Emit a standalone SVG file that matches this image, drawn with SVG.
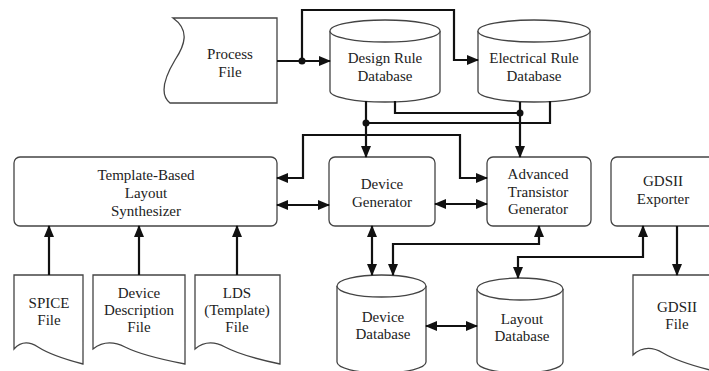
<svg xmlns="http://www.w3.org/2000/svg" width="709" height="371" viewBox="0 0 709 371">
<style>
.shape{fill:#fff;stroke:#444;stroke-width:1.3}
.con{fill:none;stroke:#111;stroke-width:2.2}
.dot{fill:#111}
text{font-family:"Liberation Serif","Times New Roman",serif;font-size:15px;fill:#222;text-anchor:middle}
</style>
<defs>
<marker id="arr" markerUnits="userSpaceOnUse" markerWidth="12" markerHeight="10" refX="11" refY="5" orient="auto-start-reverse">
<path d="M0,0 L12,5 L0,10 Z" fill="#111"/>
</marker>
</defs>
<rect width="709" height="371" fill="#fff"/>

<g id="process-file">
<path class="shape" d="M173,18 H277 V103 H170 C160,95 163,80 175,60 C185,45 190,30 173,18 Z"/>
<text x="230" y="59">Process</text><text x="230" y="77">File</text>
</g>

<g id="design-rule-db">
<path class="shape" d="M330,31 V91 A55,11 0 0 0 440,91 V31"/>
<ellipse class="shape" cx="385" cy="31" rx="55" ry="11"/>
<text x="385" y="63">Design Rule</text><text x="385" y="81">Database</text>
</g>

<g id="electrical-rule-db">
<path class="shape" d="M478,31 V91 A56,11 0 0 0 590,91 V31"/>
<ellipse class="shape" cx="534" cy="31" rx="56" ry="11"/>
<text x="534" y="63">Electrical Rule</text><text x="534" y="81">Database</text>
</g>

<g id="template-synth">
<rect class="shape" x="14" y="157" width="263" height="69" rx="6"/>
<text x="146" y="180">Template-Based</text><text x="146" y="198">Layout</text><text x="146" y="216">Synthesizer</text>
</g>

<g id="device-generator">
<rect class="shape" x="329" y="157" width="106" height="69" rx="6"/>
<text x="382" y="189">Device</text><text x="382" y="207">Generator</text>
</g>

<g id="atg">
<rect class="shape" x="487" y="157" width="104" height="69" rx="6"/>
<text x="538" y="179">Advanced</text><text x="538" y="197">Transistor</text><text x="538" y="214">Generator</text>
</g>

<g id="gdsii-exporter">
<rect class="shape" x="611" y="157" width="110" height="69" rx="6"/>
<text x="663" y="186">GDSII</text><text x="663" y="204">Exporter</text>
</g>

<g id="spice-file">
<path class="shape" d="M14,275 V349 Q24,338 38,347 T83,364 V275 Z"/>
<text x="49" y="308">SPICE</text><text x="49" y="325">File</text>
</g>

<g id="device-desc-file">
<path class="shape" d="M93,275 V349 Q107,338 125,347 T185,364 V275 Z"/>
<text x="139" y="298">Device</text><text x="139" y="315">Description</text><text x="139" y="332">File</text>
</g>

<g id="lds-file">
<path class="shape" d="M195,275 V349 Q208,338 225,347 T280,364 V275 Z"/>
<text x="237" y="298">LDS</text><text x="237" y="315">(Template)</text><text x="237" y="332">File</text>
</g>

<g id="device-db">
<path class="shape" d="M337,286 V362 A44.5,11 0 0 0 426,362 V286"/>
<ellipse class="shape" cx="381.5" cy="286" rx="44.5" ry="11"/>
<text x="383" y="322">Device</text><text x="383" y="339">Database</text>
</g>

<g id="layout-db">
<path class="shape" d="M477,289 V362 A43,11 0 0 0 563,362 V289"/>
<ellipse class="shape" cx="520" cy="289" rx="43" ry="11"/>
<text x="522" y="324">Layout</text><text x="522" y="341">Database</text>
</g>

<g id="gdsii-file">
<path class="shape" d="M633,275 V355 Q646,343 663,353 T718,372 V275 Z"/>
<text x="677" y="312">GDSII</text><text x="677" y="329">File</text>
</g>

<g id="connectors">
<path class="con" d="M277,61 H330" marker-end="url(#arr)"/>
<path class="con" d="M302,61 V10 H454 V60 H478" marker-end="url(#arr)"/>
<path class="con" d="M366,101 V157" marker-end="url(#arr)"/>
<path class="con" d="M395,101 V113 H520"/>
<path class="con" d="M520,102 V157" marker-end="url(#arr)"/>
<path class="con" d="M550,101 V123 H366"/>
<path class="con" d="M277,178 H303 V135 H460 V178 H487" marker-start="url(#arr)" marker-end="url(#arr)"/>
<path class="con" d="M277,205 H329" marker-start="url(#arr)" marker-end="url(#arr)"/>
<path class="con" d="M435,204 H487" marker-start="url(#arr)" marker-end="url(#arr)"/>
<path class="con" d="M372,226 V275" marker-start="url(#arr)" marker-end="url(#arr)"/>
<path class="con" d="M539,226 V244 H393 V275" marker-start="url(#arr)" marker-end="url(#arr)"/>
<path class="con" d="M643,226 V257 H518 V278" marker-start="url(#arr)" marker-end="url(#arr)"/>
<path class="con" d="M677,226 V275" marker-end="url(#arr)"/>
<path class="con" d="M426,326 H477" marker-start="url(#arr)" marker-end="url(#arr)"/>
<path class="con" d="M49,275 V226" marker-end="url(#arr)"/>
<path class="con" d="M139,275 V226" marker-end="url(#arr)"/>
<path class="con" d="M237,275 V226" marker-end="url(#arr)"/>
<circle class="dot" cx="302" cy="61" r="3.5"/>
<circle class="dot" cx="366" cy="123" r="3.5"/>
<circle class="dot" cx="520" cy="113" r="3.5"/>
</g>
</svg>
